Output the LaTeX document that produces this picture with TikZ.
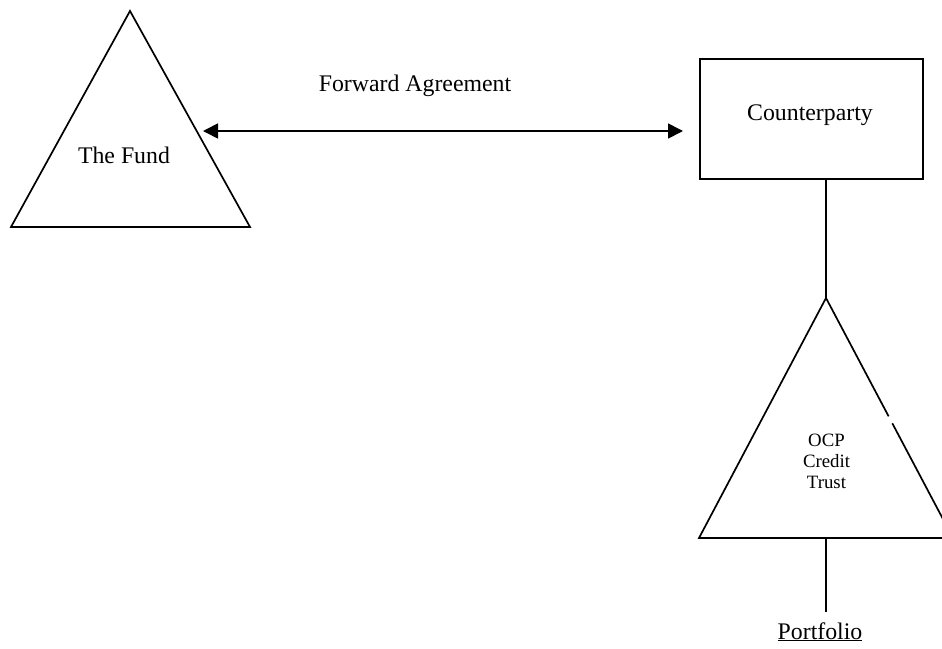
\documentclass[tikz,border=0pt]{standalone}
\usepackage{fontspec}
\setmainfont{Liberation Serif}
\usetikzlibrary{arrows.meta,calc}
\begin{document}
\begin{tikzpicture}[x=1pt,y=-1pt,
  shapeline/.style={line width=1.7pt, line join=miter},
  lbl/.style={font=\fontsize{23.8}{28}\selectfont, inner sep=0pt, anchor=base},
  smalllbl/.style={font=\fontsize{18.8}{21}\selectfont, inner sep=0pt, anchor=base},
  dblarrow/.style={line width=1.7pt, {Triangle[length=15pt,width=15pt]}-{Triangle[length=15pt,width=15pt]}}]
\useasboundingbox (0,0) rectangle (942,648);
% The Fund triangle
\coordinate (fa) at (130,11);
\coordinate (fl) at (11,227);
\coordinate (fr) at (250,227);
\draw[shapeline] (fa) -- (fl) -- (fr) -- cycle;
\node[lbl] (fund) at (124,163) {The Fund};
% Counterparty box
\node[draw, shapeline, minimum width=223pt, minimum height=120pt, inner sep=0pt] (cp) at (811.5,119) {};
\node[lbl] (cptext) at (810,120) {Counterparty};
% OCP triangle
\coordinate (ta) at (826,298);
\coordinate (tl) at (699,538);
\coordinate (tr) at (953,538);
\coordinate (g1) at ($(ta)!0.493!(tr)$);
\coordinate (g2) at ($(ta)!0.522!(tr)$);
\draw[shapeline] (g1) -- (ta) -- (tl) -- (tr) -- (g2);
\node[smalllbl] (ocp1) at (826.5,446) {OCP};
\node[smalllbl] (ocp2) at (826.5,467) {Credit};
\node[smalllbl] (ocp3) at (826.5,488) {Trust};
% connectors
\coordinate (fundr) at (203,131);
\coordinate (cpl) at (683,131);
\draw[dblarrow] (fundr) -- (cpl);
\node[lbl] (fwd) at (415,91) {Forward Agreement};
\draw[shapeline] (cp.south -| ta) -- (ta);
\coordinate (tb) at (826,538);
\coordinate (pt) at (826,612);
\draw[shapeline] (tb) -- (pt);
\node[lbl] (port) at (820,639) {\underline{Portfolio}};
\end{tikzpicture}
\end{document}
